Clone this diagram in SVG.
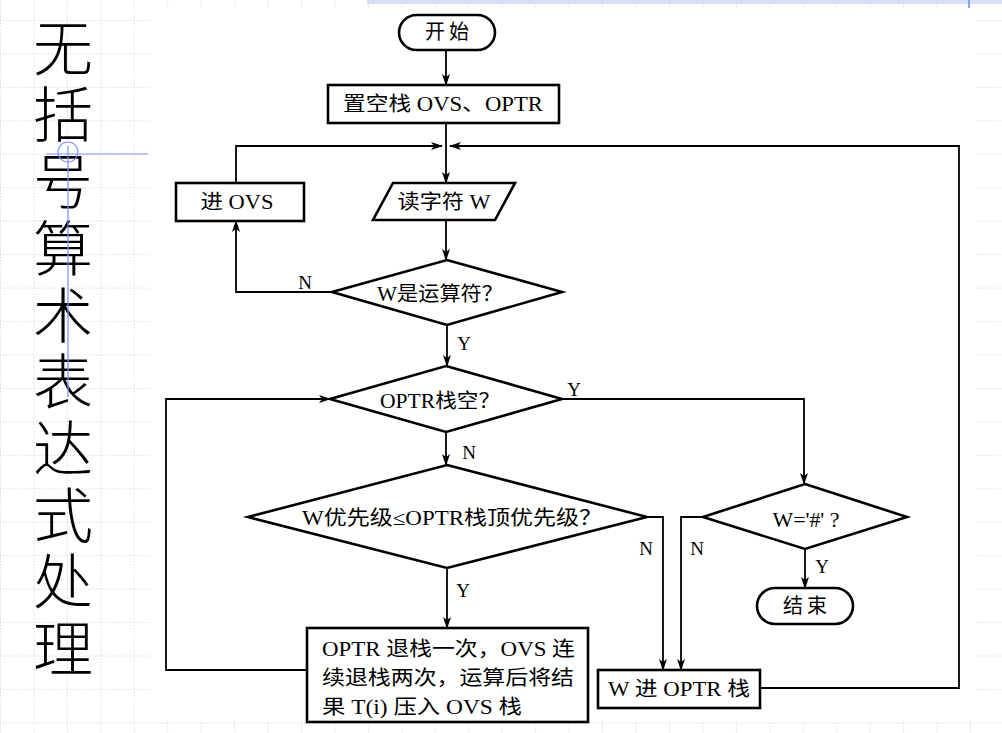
<svg xmlns="http://www.w3.org/2000/svg" width="1002" height="733" viewBox="0 0 1002 733">
<defs>
<pattern id="grid" x="0" y="20" width="33.45" height="33.45" patternUnits="userSpaceOnUse">
<line x1="0" y1="0.5" x2="33.45" y2="0.5" stroke="#c6cee8" stroke-width="1" stroke-dasharray="1 2"/>
<line x1="0.5" y1="0" x2="0.5" y2="33.45" stroke="#c6cee8" stroke-width="1" stroke-dasharray="1 2"/>
</pattern>
<marker id="ah" markerWidth="12" markerHeight="8" refX="11" refY="4" orient="auto" markerUnits="userSpaceOnUse">
<path d="M0,0 L12,4 L0,8 L3,4 Z" fill="#000"/>
</marker>
<style>
.shape{fill:#fff;stroke:#000;stroke-width:2.6}
.conn{fill:none;stroke:#000;stroke-width:1.8}
.t{font-family:"Liberation Serif","Noto Sans CJK SC",serif;font-size:20px;fill:#000;text-anchor:middle}
.bt{font-family:"Liberation Serif","Noto Sans CJK SC",serif;font-size:20px;fill:#000}
.lab{font-family:"Liberation Serif",serif;font-size:19px;fill:#000;text-anchor:middle}
.title{font-family:"Noto Sans CJK SC",sans-serif;font-weight:300;font-size:60px;fill:#000;writing-mode:vertical-rl;letter-spacing:6.7px}
.guide{stroke:#7b96ff;stroke-width:1.2;fill:none}
</style>
</defs>
<rect x="0" y="0" width="1002" height="733" fill="#fff"/>
<rect x="0" y="0" width="1002" height="733" fill="url(#grid)"/>
<rect x="367" y="0" width="635" height="4" fill="#d6def8"/>
<line x1="969" y1="0" x2="969" y2="8" stroke="#6b8cff" stroke-width="1.5"/>
<rect x="150" y="8" width="825" height="714" fill="#fff"/>

<g id="title">
<text class="title" x="63" y="18">无括号算术表达式处理</text>
</g>
<g id="guides">
<line class="guide" x1="46" y1="154" x2="148" y2="154"/>
<line class="guide" x1="68" y1="146" x2="68" y2="397"/>
<circle class="guide" cx="68" cy="152" r="10" stroke-width="0.9"/>
</g>

<g id="connectors">
<path class="conn" d="M446,50 V85" marker-end="url(#ah)"/>
<path class="conn" d="M446,123 V183" marker-end="url(#ah)"/>
<path class="conn" d="M236,183 V146 H442" marker-end="url(#ah)"/>
<path class="conn" d="M332,292 H236 V221" marker-end="url(#ah)"/>
<path class="conn" d="M446,220 V260" marker-end="url(#ah)"/>
<path class="conn" d="M447,325 V366" marker-end="url(#ah)"/>
<path class="conn" d="M562,399 H804 V484" marker-end="url(#ah)"/>
<path class="conn" d="M446,432 V465" marker-end="url(#ah)"/>
<path class="conn" d="M307,670 H166 V399 H330" marker-end="url(#ah)"/>
<path class="conn" d="M447,568 V628" marker-end="url(#ah)"/>
<path class="conn" d="M647,517 H663 V670" marker-end="url(#ah)"/>
<path class="conn" d="M703,517 H681 V670" marker-end="url(#ah)"/>
<path class="conn" d="M805,549 V588" marker-end="url(#ah)"/>
<path class="conn" d="M760,688 H959 V146 H450" marker-end="url(#ah)"/>
<text class="lab" x="305" y="289">N</text>
<text class="lab" x="464" y="350">Y</text>
<text class="lab" x="574" y="396">Y</text>
<text class="lab" x="469" y="459">N</text>
<text class="lab" x="463" y="597">Y</text>
<text class="lab" x="646" y="555">N</text>
<text class="lab" x="697" y="555">N</text>
<text class="lab" x="822" y="573">Y</text>
</g>

<g id="start">
<rect class="shape" x="399" y="15" width="96" height="35" rx="17.5"/>
<text class="t" x="447" y="39" textLength="44" lengthAdjust="spacing">开始</text>
</g>
<g id="init">
<rect class="shape" x="328" y="85" width="231" height="38"/>
<text class="t" x="443" y="111" textLength="200" lengthAdjust="spacingAndGlyphs">置空栈 OVS、OPTR</text>
</g>
<g id="push-ovs">
<rect class="shape" x="176" y="183" width="128" height="38"/>
<text class="t" x="237" y="209" textLength="73" lengthAdjust="spacingAndGlyphs">进 OVS</text>
</g>
<g id="read">
<polygon class="shape" points="393,183 515,183 495,220 373,220"/>
<text class="t" x="444" y="209" textLength="93" lengthAdjust="spacingAndGlyphs">读字符 W</text>
</g>
<g id="is-op">
<polygon class="shape" points="447,260 562,292 447,325 332,292"/>
<text class="t" x="440" y="301" textLength="126" lengthAdjust="spacingAndGlyphs">W是运算符？</text>
</g>
<g id="optr-empty">
<polygon class="shape" points="446,366 562,399 446,432 330,399"/>
<text class="t" x="440" y="408" textLength="120" lengthAdjust="spacingAndGlyphs">OPTR栈空？</text>
</g>
<g id="priority">
<polygon class="shape" points="447,465 647,517 447,568 248,517"/>
<text class="t" x="452" y="525" textLength="300" lengthAdjust="spacingAndGlyphs">W优先级≤OPTR栈顶优先级？</text>
</g>
<g id="is-hash">
<polygon class="shape" points="805,484 907,517 805,549 703,517"/>
<text class="t" x="806" y="527" textLength="67" lengthAdjust="spacingAndGlyphs">W='#' ?</text>
</g>
<g id="end">
<rect class="shape" x="757" y="588" width="96" height="36" rx="18"/>
<text class="t" x="805" y="613" textLength="44" lengthAdjust="spacing">结束</text>
</g>
<g id="compute">
<rect class="shape" x="307" y="628" width="281" height="94"/>
<text class="bt" x="322" y="656" textLength="253" lengthAdjust="spacingAndGlyphs">OPTR 退栈一次，OVS 连</text>
<text class="bt" x="322" y="685" textLength="252" lengthAdjust="spacingAndGlyphs">续退栈两次，运算后将结</text>
<text class="bt" x="322" y="714" textLength="200" lengthAdjust="spacingAndGlyphs">果 T(i) 压入 OVS 栈</text>
</g>
<g id="push-optr">
<rect class="shape" x="598" y="670" width="162" height="38"/>
<text class="t" x="679" y="696" textLength="142" lengthAdjust="spacingAndGlyphs">W 进 OPTR 栈</text>
</g>
</svg>
